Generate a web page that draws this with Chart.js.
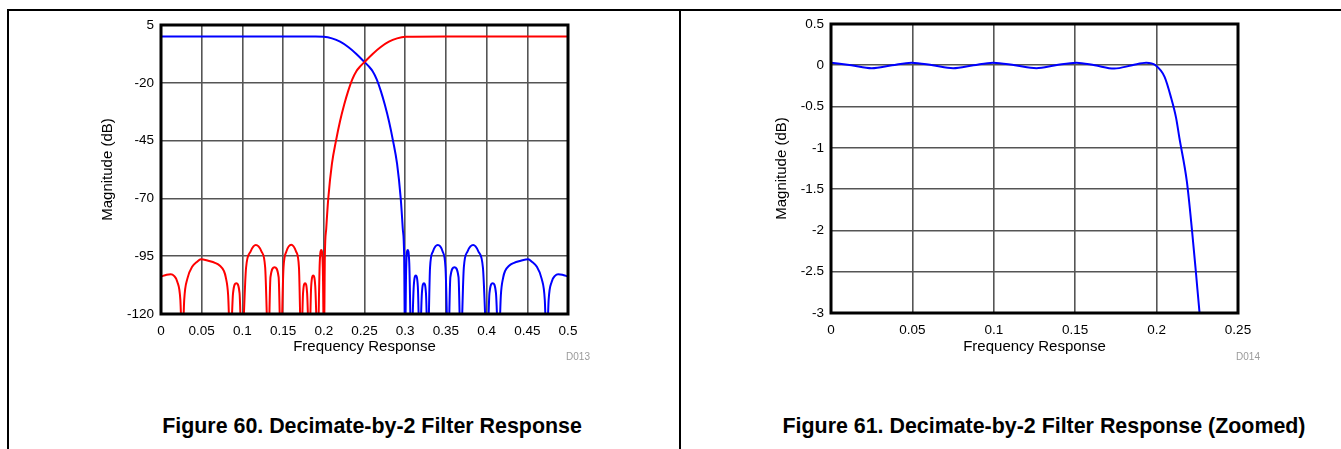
<html>
<head>
<style>
body { margin: 0; background: #fff; }
#page { position: relative; width: 1341px; height: 449px; overflow: hidden; font-family: "Liberation Sans", Arial, sans-serif; }
.line { position: absolute; background: #000; }
canvas { position: absolute; }
.code { position: absolute; font-size: 10px; color: #9a9a9a; width: 40px; text-align: center; line-height: 12px; }
.caption { position: absolute; width: 640px; text-align: center; font-weight: bold; font-size: 21.4px; line-height: 24px; color: #000; }
</style>
</head>
<body>
<div id="page">
  <div class="line" style="left:7px; top:9px; width:1334px; height:1.5px;"></div>
  <div class="line" style="left:7px; top:9px; width:1.5px; height:440px;"></div>
  <div class="line" style="left:679px; top:9px; width:1.5px; height:440px;"></div>

  <canvas id="leftChart" width="560" height="362" style="left:40px; top:8px;"></canvas>
  <canvas id="rightChart" width="560" height="362" style="left:710px; top:8px;"></canvas>

  <div class="code" style="left:558px; top:351px;">D013</div>
  <div class="code" style="left:1228px; top:351px;">D014</div>
  <div class="caption" style="left:52px; top:414px;">Figure 60. Decimate-by-2 Filter Response</div>
  <div class="caption" style="left:724px; top:414px;">Figure 61. Decimate-by-2 Filter Response (Zoomed)</div>
</div>
<script src="https://cdn.jsdelivr.net/npm/chart.js"></script>
<script>
// low-pass (blue) response, full band
const lpFreq = [0, 0.05, 0.1, 0.15, 0.19, 0.2, 0.21, 0.22, 0.23, 0.24, 0.25, 0.255, 0.26, 0.265, 0.27, 0.275, 0.28, 0.285, 0.29, 0.2945, 0.297, 0.2987,
  0.2998, 0.3012, 0.303, 0.305, 0.3075, 0.3105, 0.313, 0.3155, 0.3178, 0.3205, 0.323, 0.3255, 0.3278, 0.3305, 0.334, 0.34, 0.346, 0.3495,
  0.3528, 0.3555, 0.3605, 0.3655, 0.3682, 0.372, 0.3765, 0.3835, 0.39, 0.3955, 0.4008, 0.4035, 0.4075, 0.4115, 0.4148, 0.4175, 0.4205,
  0.4226, 0.428, 0.433, 0.442, 0.451, 0.456, 0.4615, 0.4675, 0.4715, 0.4738, 0.4762, 0.48, 0.484, 0.488, 0.493, 0.4985, 0.5];
const lpMag = [0, 0, 0, 0, 0, -0.1, -0.8, -2.2, -4.5, -7.5, -11, -12.8, -15, -18.5, -23.5, -29.5, -36.5, -45, -55, -70, -83, -95,
  -135, -100, -92.3, -98, -135, -108, -103.4, -108, -135, -111, -106.7, -111, -135, -100, -93, -90.2, -93, -100,
  -135, -104, -99.8, -104, -135, -100, -93, -90.2, -93, -100, -135, -111, -106.7, -111, -135, -112, -104,
  -101.5, -99, -98, -97, -96.3, -97.5, -99.5, -104.6, -114, -135, -114, -106, -103.5, -102.8, -103, -103.6, -103.8];

// high-pass (red) response, full band
const hpFreq = [0, 0.0015, 0.007, 0.012, 0.016, 0.02, 0.0238, 0.0262, 0.0285, 0.0325, 0.0385, 0.044, 0.049, 0.058, 0.067, 0.072,
  0.0774, 0.0795, 0.0825, 0.0852, 0.0885, 0.0925, 0.0965, 0.0992, 0.1045, 0.11, 0.1165, 0.1235, 0.128, 0.1318, 0.1345, 0.1395,
  0.1445, 0.1472, 0.1505, 0.154, 0.16, 0.166, 0.1695, 0.1722, 0.1745, 0.177, 0.1795, 0.1822, 0.1845, 0.187, 0.1895, 0.1925,
  0.195, 0.197, 0.1988, 0.2002, 0.2013, 0.203, 0.2055, 0.21, 0.215, 0.22, 0.225, 0.23, 0.235, 0.24, 0.245, 0.25, 0.26, 0.27,
  0.28, 0.29, 0.3, 0.35, 0.4, 0.45, 0.5];
const hpMag = [-103.8, -103.6, -103, -102.8, -103.5, -106, -114, -135, -114, -104.6, -99.5, -97.5, -96.3, -97, -98, -99,
  -101.5, -104, -112, -135, -111, -106.7, -111, -135, -100, -93, -90.2, -93, -100, -135, -104, -99.8,
  -104, -135, -100, -93, -90, -93, -100, -135, -111, -106.7, -111, -135, -108, -103.4, -108, -135,
  -98, -92.3, -100, -135, -95, -83, -70, -55, -45, -36.5, -29.5, -23.5, -18.5, -15, -12.8, -11, -7.5, -4.5,
  -2.2, -0.8, -0.1, 0, 0, 0, 0];

// low-pass passband, zoomed
const zoomFreq = [0, 0.0125, 0.025, 0.0375, 0.0495, 0.0625, 0.075, 0.0875, 0.0996, 0.113, 0.1262, 0.138, 0.1507, 0.162, 0.174,
  0.185, 0.1936, 0.1993, 0.2049, 0.209, 0.212, 0.214, 0.2186, 0.2218, 0.2243, 0.2263, 0.2275];
const zoomMag = [0.032, 0, -0.036, 0, 0.032, 0, -0.036, 0, 0.032, 0, -0.036, 0, 0.032, 0, -0.04,
  0, 0.03, 0, -0.14, -0.4, -0.64, -0.88, -1.41, -2.01, -2.54, -2.98, -3.2];

const leftXTicks = [0, 0.05, 0.1, 0.15, 0.2, 0.25, 0.3, 0.35, 0.4, 0.45, 0.5];
const leftYTicks = [-120, -95, -70, -45, -20, 5];
const rightXTicks = [0, 0.05, 0.1, 0.15, 0.2, 0.25];
const rightYTicks = [-3, -2.5, -2, -1.5, -1, -0.5, 0, 0.5];

const points = (xs, ys) => xs.map((x, i) => ({x: x, y: ys[i]}));
const fmt = v => String(Math.round(v * 1000) / 1000);
const tickFont = {family: '"Liberation Sans", Arial, sans-serif', size: 13.5};
const titleFont = {family: '"Liberation Sans", Arial, sans-serif', size: 15};

const framePlugin = {
  id: 'frame',
  afterDatasetsDraw(chart) {
    const {ctx, chartArea: a} = chart;
    ctx.save();
    ctx.strokeStyle = '#000';
    ctx.lineWidth = 3;
    ctx.strokeRect(a.left, a.top, a.right - a.left, a.bottom - a.top);
    ctx.restore();
  }
};

function makeConfig(datasets, xTicks, yTicks, pad, yWidth, xHeight) {
  return {
    type: 'line',
    data: {datasets: datasets},
    plugins: [framePlugin],
    options: {
      responsive: false,
      animation: false,
      layout: {padding: pad},
      plugins: {legend: {display: false}, tooltip: {enabled: false}},
      elements: {point: {radius: 0}, line: {borderWidth: 2, cubicInterpolationMode: 'monotone'}},
      scales: {
        x: {
          type: 'linear',
          min: xTicks[0], max: xTicks[xTicks.length - 1],
          afterBuildTicks: s => { s.ticks = xTicks.map(v => ({value: v})); },
          afterFit: s => { s.height = xHeight; },
          grid: {color: '#555', lineWidth: 1.6, drawTicks: false},
          border: {display: false},
          ticks: {font: tickFont, color: '#000', padding: 9, maxRotation: 0, autoSkip: false, callback: fmt},
          title: {display: true, text: 'Frequency Response', font: titleFont, color: '#000'}
        },
        y: {
          type: 'linear',
          min: yTicks[0], max: yTicks[yTicks.length - 1],
          afterBuildTicks: s => { s.ticks = yTicks.map(v => ({value: v})); },
          afterFit: s => { s.width = yWidth; },
          grid: {color: '#555', lineWidth: 1.6, drawTicks: false},
          border: {display: false},
          ticks: {font: tickFont, color: '#000', padding: 7, autoSkip: false, callback: fmt},
          title: {display: true, text: 'Magnitude (dB)', font: titleFont, color: '#000'}
        }
      }
    }
  };
}

const leftChart = new Chart(document.getElementById('leftChart'), makeConfig([
  {data: points(hpFreq, hpMag), borderColor: '#ff0000', backgroundColor: '#ff0000'},
  {data: points(lpFreq, lpMag), borderColor: '#0000ff', backgroundColor: '#0000ff'}
], leftXTicks, leftYTicks, {left: 55, top: 17, right: 32, bottom: 10}, 66, 46));

const rightChart = new Chart(document.getElementById('rightChart'), makeConfig([
  {data: points(zoomFreq, zoomMag), borderColor: '#0000ff', backgroundColor: '#0000ff'}
], rightXTicks, rightYTicks, {left: 59, top: 16, right: 32, bottom: 10}, 62, 47));
</script>
</body>
</html>
